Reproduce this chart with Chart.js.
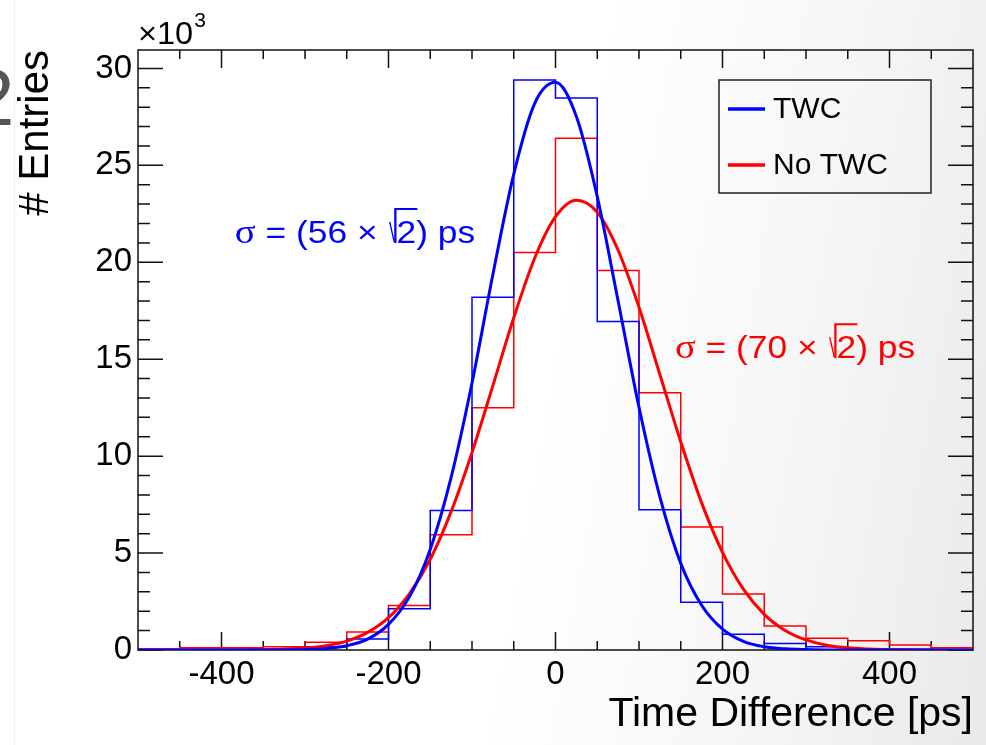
<!DOCTYPE html>
<html lang="en">

<head>
  <meta charset="UTF-8" />
  <title>Time Difference</title>
  <style>
    html, body { margin: 0; padding: 0; }
    body {
      width: 986px; height: 745px; overflow: hidden; position: relative;
      background: linear-gradient(100deg, #ffffff 55%, #f5f5f5 80%, #e9e9e9 100%);
    }
    #chart { position: absolute; left: 0; top: 0; }
    .edge { position: absolute; left: 14px; top: 0; width: 1px; height: 745px; background: #efefef; }
    .glyph {
      position: absolute; left: -30px; top: 58px; font: 80px "Liberation Sans", Arial, sans-serif;
      color: #555; line-height: 1;
    }
  </style>
</head>

<body>
  <div class="glyph">2</div>
  <div class="edge"></div>
  <canvas id="chart" width="986" height="745"></canvas>

  <script src="https://cdn.jsdelivr.net/npm/chart.js@4.4.0/dist/chart.umd.min.js"></script>
  <script>
    // histogram bins (50 ps wide), counts in units of 10^3
    const binEdges = [-500, -450, -400, -350, -300, -250, -200, -150, -100, -50, 0,
      50, 100, 150, 200, 250, 300, 350, 400, 450, 500];
    const twcCounts = [0.0, 0.02, 0.03, 0.05, 0.17, 0.57, 2.13, 7.19, 18.2, 29.4,
      28.48, 16.95, 7.23, 2.46, 0.81, 0.33, 0.17, 0.05, 0.03, 0.01];
    const noTwcCounts = [0.05, 0.12, 0.12, 0.17, 0.4, 0.93, 2.29, 5.94, 12.49, 20.5,
      26.4, 19.58, 13.27, 6.35, 2.89, 1.24, 0.6, 0.48, 0.26, 0.12];

    // gaussian fits
    const fitX = [-500, -450, -400, -350, -300, -275, -250, -225, -200, -175, -150, -125,
      -100, -75, -50, -25, 0, 25, 50, 75, 100, 125, 150, 175, 200, 225, 250, 275, 300,
      325, 350, 375, 400, 450, 500];
    const fitTwc = [0, 0, 0, 0, 0.02, 0.08, 0.22, 0.56, 1.32, 2.74, 5.19, 8.9,
      13.77, 19.37, 24.55, 28.19, 29.28, 27.52, 23.39, 18.0, 12.52, 7.9, 4.47, 2.31, 1.08,
      0.45, 0.17, 0.06, 0.02, 0, 0, 0, 0, 0, 0];
    const fitNoTwc = [0, 0, 0, 0.02, 0.1, 0.22, 0.46, 0.91, 1.67, 2.9, 4.68, 7.14,
      10.19, 13.64, 17.14, 20.21, 22.35, 23.2, 22.58, 20.62, 17.68, 14.21, 10.74, 7.59, 5.04,
      3.14, 1.84, 1.01, 0.52, 0.25, 0.11, 0.05, 0.02, 0, 0];

    const xTickValues = [-400, -200, 0, 200, 400];
    const yTickValues = [0, 5, 10, 15, 20, 25, 30];

    const BLUE = "#0000ff";
    const RED = "#ff0000";
    Chart.defaults.font.family = '"Liberation Sans", Arial, sans-serif';
    Chart.defaults.color = "#000";

    // step outline: one point per left bin edge, plus the closing edge
    function histPoints(counts) {
      const pts = counts.map((c, i) => ({ x: binEdges[i], y: c }));
      pts.push({ x: binEdges[binEdges.length - 1], y: counts[counts.length - 1] });
      return pts;
    }
    function fitPoints(vals) {
      return vals.map((v, i) => ({ x: fitX[i], y: v }));
    }

    // inward ROOT style ticks and the frame
    const frame = {
      id: "frame",
      beforeDatasetsDraw(chart) {
        const { ctx, chartArea: a, scales: { x, y } } = chart;
        ctx.save();
        ctx.strokeStyle = "#111";
        ctx.lineWidth = 1.5;
        ctx.strokeRect(a.left, a.top, a.right - a.left, a.bottom - a.top);
        ctx.beginPath();
        for (let v = 0; v <= 30; v++) {
          const py = y.getPixelForValue(v);
          const len = v % 5 === 0 ? 25 : 12;
          ctx.moveTo(a.left, py); ctx.lineTo(a.left + len, py);
          ctx.moveTo(a.right, py); ctx.lineTo(a.right - len, py);
        }
        for (let v = -450; v < 500; v += 50) {
          const px = x.getPixelForValue(v);
          const len = v % 200 === 0 ? 18 : 9;
          ctx.moveTo(px, a.bottom); ctx.lineTo(px, a.bottom - len);
          ctx.moveTo(px, a.top); ctx.lineTo(px, a.top + len);
        }
        ctx.stroke();
        // x10^3 multiplier
        ctx.fillStyle = "#000";
        ctx.textBaseline = "alphabetic";
        ctx.font = '31px "Liberation Sans"';
        ctx.save();
        ctx.translate(a.left, a.top - 6);
        ctx.scale(1.05, 1);
        ctx.fillText("\u00d710", 0, 0);
        const w = ctx.measureText("\u00d710").width;
        ctx.font = '20px "Liberation Sans"';
        ctx.fillText("3", w + 1, -17);
        ctx.restore();
        ctx.restore();
      },
      afterDatasetsDraw(chart) {
        const { ctx, chartArea: a, scales: { x, y } } = chart;
        drawSigma(ctx, x.getPixelForValue(-384), y.getPixelForValue(21), "56", BLUE);
        drawSigma(ctx, x.getPixelForValue(143), y.getPixelForValue(15.05), "70", RED);

        // legend box
        ctx.save();
        const lx = a.right - 254, ly = a.top + 30;
        ctx.strokeStyle = "#222";
        ctx.lineWidth = 1.5;
        ctx.strokeRect(lx, ly, 212, 113);
        const rows = [["TWC", BLUE], ["No TWC", RED]];
        ctx.font = '30px "Liberation Sans"';
        ctx.textBaseline = "middle";
        rows.forEach(([label, col], i) => {
          const ry = ly + 29 + i * 56;
          ctx.strokeStyle = col;
          ctx.lineWidth = 3.5;
          ctx.beginPath();
          ctx.moveTo(lx + 9, ry); ctx.lineTo(lx + 46, ry);
          ctx.stroke();
          ctx.fillStyle = "#000";
          ctx.fillText(label, lx + 54, ry + 1);
        });
        ctx.restore();
      }
    };

    function drawSigma(ctx, px, py, val, col) {
      ctx.save();
      ctx.translate(px, py);
      ctx.scale(1.14, 1);
      ctx.fillStyle = col;
      ctx.strokeStyle = col;
      ctx.textBaseline = "alphabetic";
      let cx = 0;
      ctx.font = '34px "Liberation Serif"';
      ctx.fillText("\u03c3", cx, 0);
      cx += ctx.measureText("\u03c3").width;
      ctx.font = '31px "Liberation Sans"';
      const s1 = " = (" + val + " \u00d7 ";
      ctx.fillText(s1, cx, 0);
      cx += ctx.measureText(s1).width + 2;
      const w2 = ctx.measureText("2").width;
      ctx.lineWidth = 1.2;
      ctx.beginPath();
      ctx.moveTo(cx, -21); ctx.lineTo(cx + 4, -1);
      ctx.stroke();
      ctx.lineWidth = 2;
      ctx.beginPath();
      ctx.moveTo(cx + 5, 0); ctx.lineTo(cx + 5, -34); ctx.lineTo(cx + 7 + w2, -34);
      ctx.stroke();
      cx += 6;
      ctx.fillText("2) ps", cx, 0);
      ctx.restore();
    }

    const ctx = document.getElementById("chart").getContext("2d");
    const chart = new Chart(ctx, {
      type: "line",
      data: {
        datasets: [
          { label: "TWC", data: fitPoints(fitTwc), borderColor: BLUE, borderWidth: 3, cubicInterpolationMode: "monotone" },
          { label: "No TWC", data: fitPoints(fitNoTwc), borderColor: RED, borderWidth: 3, cubicInterpolationMode: "monotone" },
          { label: "TWC hist", data: histPoints(twcCounts), borderColor: BLUE, borderWidth: 1.5, stepped: true },
          { label: "No TWC hist", data: histPoints(noTwcCounts), borderColor: RED, borderWidth: 1.5, stepped: true },
        ],
      },
      options: {
        responsive: false,
        animation: false,
        events: [],
        elements: { point: { radius: 0 }, line: { fill: false } },
        layout: { padding: { top: 50, right: 13, left: 0, bottom: 0 } },
        plugins: { legend: { display: false }, tooltip: { enabled: false } },
        scales: {
          x: {
            type: "linear", min: -500, max: 500,
            grid: { display: false, drawTicks: false },
            border: { display: false },
            afterBuildTicks: (s) => { s.ticks = xTickValues.map((v) => ({ value: v })); },
            afterFit: (s) => { s.height = 95; },
            ticks: { font: { size: 33 }, color: "#000", padding: 5, maxRotation: 0, autoSkip: false },
            title: { display: true, text: "Time Difference [ps]", align: "end", color: "#000",
              font: { size: 41 }, padding: { top: 0, bottom: 6 } },
          },
          y: {
            min: 0, max: 30.95,
            grid: { display: false, drawTicks: false },
            border: { display: false },
            afterBuildTicks: (s) => { s.ticks = yTickValues.map((v) => ({ value: v })); },
            afterFit: (s) => { s.width = 138; },
            ticks: { font: { size: 33 }, color: "#000", padding: 6, autoSkip: false },
            title: { display: true, text: "# Entries", align: "end", color: "#000",
              font: { size: 42 }, padding: { top: 11, bottom: 0 } },
          },
        },
      },
      plugins: [frame],
    });
  </script>
</body>

</html>
